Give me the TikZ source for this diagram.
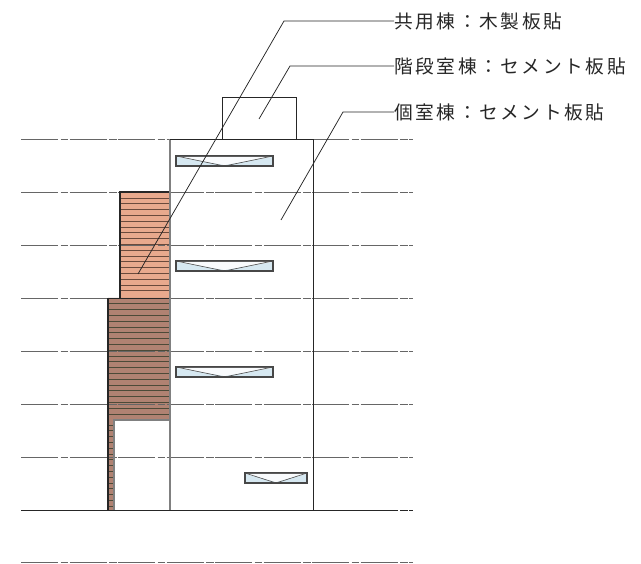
\documentclass[tikz,border=0pt]{standalone}
\usepackage{fontspec}
\setmainfont{Noto Sans CJK JP}[LetterSpace=14]
\usetikzlibrary{positioning}
\definecolor{woodlight}{HTML}{E8A98D}
\definecolor{woodlightline}{HTML}{6A4A3C}
\definecolor{wooddark}{HTML}{B08272}
\definecolor{wooddarkline}{HTML}{4C4A38}
\definecolor{glass}{HTML}{D6E8F1}
\tikzset{x=1pt,y=-1pt,
  gridline/.style={gray!80!black,line width=1.1pt,dash pattern=on 37.3pt off 2.2pt on 7.5pt off 1.5pt},
  wall/.style={black!85,line width=1pt},
  windowbox/.style={draw=black!72,line width=2pt,fill=glass},
  leader/.style={black!85,line width=0.75pt},
  label/.style={anchor=west,inner sep=0pt,font=\fontsize{18.7}{21}\selectfont,text=black!85}}

\begin{document}
\begin{tikzpicture}
   \useasboundingbox (0,0) rectangle (641,564);
   % cladding on the annex
   \fill[woodlight] (120,192) rectangle (170,298);
   \fill[wooddark] (108,298) -- (170,298) -- (170,420) -- (114,420) -- (114,510) -- (108,510) -- cycle;
   \foreach \y in {198,203.8,...,296}
     \draw[woodlightline,line width=0.7pt] (120,\y) -- (170,\y);
   \foreach \y in {303.8,309.6,...,418}
     \draw[wooddarkline,line width=0.7pt] (108,\y) -- (170,\y);
   \foreach \y in {425,430.8,...,508}
     \draw[wooddarkline,line width=0.7pt] (108,\y) -- (114,\y);
   % floor levels
   \foreach \y in {139.5,192.5,245.5,298.5,351.5,404.5,457.5,562.5}
     \draw[gridline] (21,\y) -- (413,\y);
   \draw[gridline,black!85] (21,510.5) -- (413,510.5);
   \draw[black!85,line width=1.1pt] (21,510.5) -- (382,510.5);
   \draw[black!85,line width=1.2pt] (108,298.5) -- (170,298.5);
   % outlines
   \draw[black!85,line width=1.1pt] (120,298) -- (120,192) -- (170,192);
   \draw[black!85,line width=1.1pt] (108,510) -- (108,298);
   \draw[gray,line width=1.1pt] (114,510) -- (114,420) -- (170,420);
   \draw[gray,line width=1.2pt] (170,510) -- (170,139.5);
   \draw[wall] (170,139.5) -- (313,139.5) -- (313,510);
   \draw[wall] (222,139.5) -- (222,98) -- (296,98) -- (296,139.5);
   % windows
   \foreach \xa/\xb/\ya in {176/273/156,176/273/261,176/273/367,245/307/473}
    {
     \draw[windowbox] (\xa,\ya) rectangle (\xb,\ya+10);
     \fill[white!85!glass] (\xa+1,\ya+1) -- ({(\xa+\xb)/2},\ya+9) -- (\xb-1,\ya+1) -- cycle;
     \draw[black!70,line width=0.6pt] (\xa,\ya) -- ({(\xa+\xb)/2},\ya+10) -- (\xb,\ya);
    }
   % labels
   \node[label] (shared) at (394,21) {共用棟：木製板貼};
   \node[label] (stair) at (394,66) {階段室棟：セメント板貼};
   \node[label] (room) at (394,112) {個室棟：セメント板貼};
   \coordinate (sharedbend) at (284,21);
   \coordinate (sharedend) at (138,274);
   \coordinate (stairbend) at (290,66);
   \coordinate (stairend) at (259,119);
   \coordinate (roombend) at (343,112);
   \coordinate (roomend) at (281,220);
   \draw[leader] (shared) -- (sharedbend) -- (sharedend);
   \draw[leader] (stair) -- (stairbend) -- (stairend);
   \draw[leader] (room) -- (roombend) -- (roomend);
\end{tikzpicture}
\end{document}
